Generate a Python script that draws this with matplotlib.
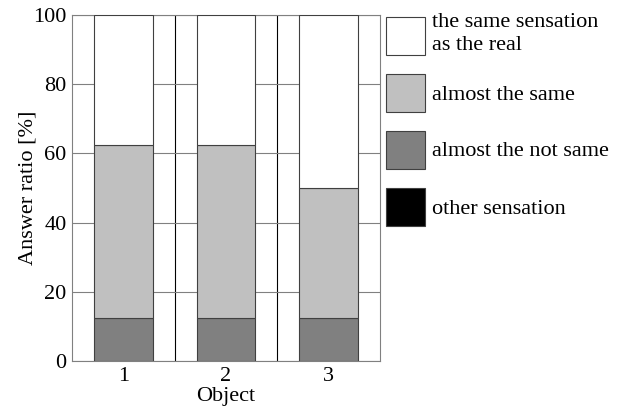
import matplotlib
matplotlib.use("Agg")
import matplotlib.pyplot as plt
from matplotlib.patches import Rectangle
import numpy as np

plt.rcParams['font.family'] = ['Liberation Serif', 'DejaVu Serif']
plt.rcParams['font.size'] = 16

objects = ['1', '2', '3']
labels = ['other sensation', 'almost the not same', 'almost the same',
          'the same sensation\nas the real']
colors = ['#000000', '#808080', '#c0c0c0', '#ffffff']
# bottom to top
other = [0, 0, 0]
not_same = [12.5, 12.5, 12.5]
almost = [50, 50, 37.5]
same = [37.5, 37.5, 50]
series = [other, not_same, almost, same]

fig = plt.figure(figsize=(6.21, 4.07), dpi=100)
ax = fig.add_axes([72/621, 1 - 361/407, 308/621, 346/407])

x = np.arange(1, len(objects) + 1)
bottom = np.zeros(len(objects))
for vals, c in zip(series, colors):
    ax.bar(x, vals, width=0.573, bottom=bottom, color=c,
           edgecolor='#404040', linewidth=0.8, zorder=3)
    bottom += np.array(vals)

ax.set_xlim(0.5, 3.5)
ax.set_ylim(0, 100)
ax.set_yticks([0, 20, 40, 60, 80, 100])
ax.set_xticks(x)
ax.set_xticklabels(objects)
ax.tick_params(axis='y', length=0, pad=4)
ax.tick_params(axis='x', length=0, pad=4)
ax.grid(axis='y', color='#808080', linewidth=0.8, zorder=0)
for xs in x[:-1] + 0.5:
    ax.axvline(xs, color='black', linewidth=0.8, zorder=1)
for s in ax.spines.values():
    s.set_color('#808080')
    s.set_linewidth(0.8)
ax.set_ylabel('Answer ratio [%]', labelpad=-3)
ax.set_xlabel('Object', labelpad=1)

# legend drawn at figure level, top to bottom
for i, (lab, c) in enumerate(zip(labels[::-1], colors[::-1])):
    top = 17 + 57 * i
    fig.add_artist(Rectangle((386/621, 1 - (top + 38)/407), 39/621, 38/407,
                             facecolor=c, edgecolor='#404040', linewidth=0.8,
                             transform=fig.transFigure))
    if '\n' in lab:
        fig.text(432/621, 1 - (top - 4)/407, lab, va='top', ha='left',
                 linespacing=1.3)
    else:
        fig.text(432/621, 1 - (top + 21)/407, lab, va='center', ha='left')

fig.savefig('out.png', dpi=100)
